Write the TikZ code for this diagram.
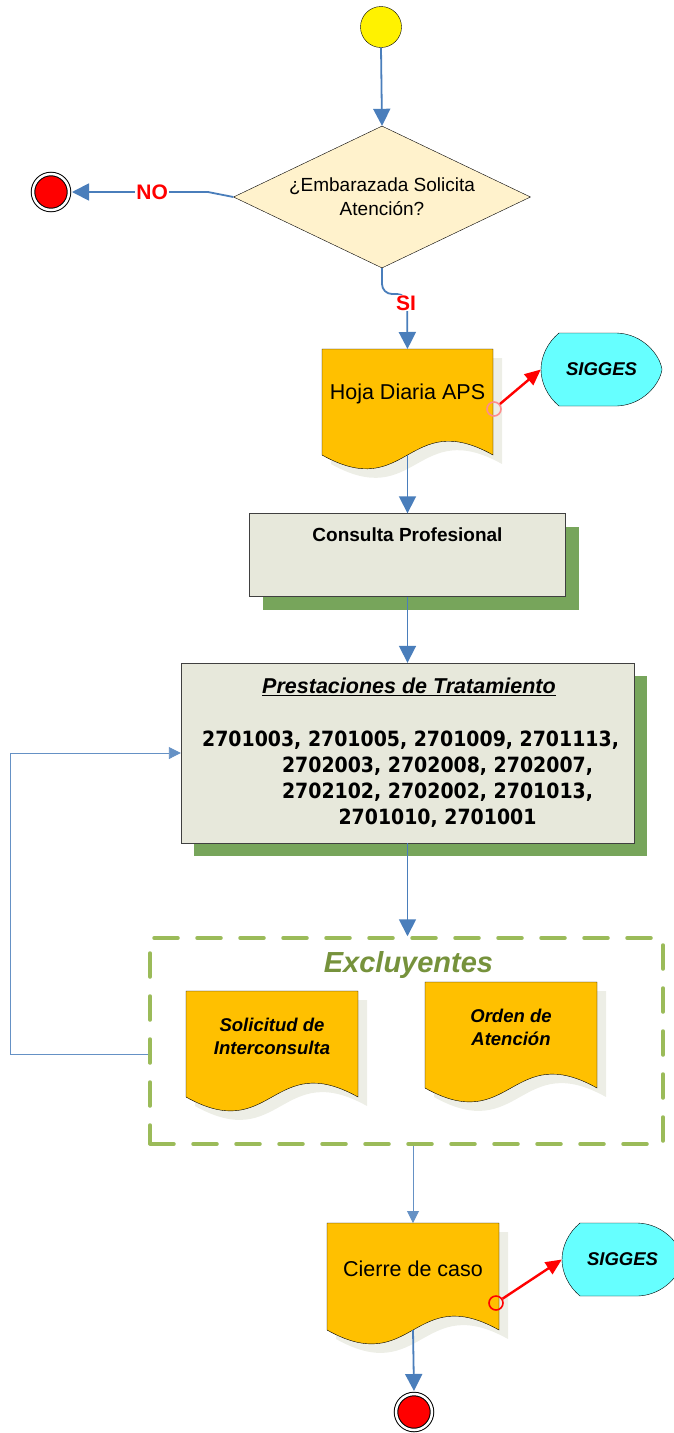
\documentclass[tikz,border=0pt]{standalone}
\usepackage{fontspec}
\setmainfont{Liberation Sans}
\newfontfamily\codefont{DejaVu Sans}[FakeStretch=0.9]
\usetikzlibrary{shapes.geometric,arrows.meta,shadows}

\definecolor{flowblue}{HTML}{4A7EBB}
\definecolor{docorange}{HTML}{FFC000}
\definecolor{docshade}{HTML}{EDEEE6}
\definecolor{boxfill}{HTML}{E7E8DB}
\definecolor{boxshade}{HTML}{77A55B}
\definecolor{decfill}{HTML}{FFF2CC}
\definecolor{sigcyan}{HTML}{66FFFF}
\definecolor{grpgreen}{HTML}{9BBB59}
\definecolor{grptext}{HTML}{76923C}

\begin{document}
\begin{tikzpicture}[x=1pt, y=-1pt]
	
	\tikzset{
		flow/.style={draw=flowblue, line width=1.8pt, -{Triangle[width=17pt,length=17pt]}},
		thinflow/.style={draw=flowblue!85, line width=0.9pt, -{Triangle[width=12pt,length=12pt]}},
		sigflow/.style={draw=red, line width=2.4pt, -{Triangle[width=14pt,length=16pt]}},
		startnode/.style={circle, draw=black, thin, fill=yellow, minimum size=41pt, inner sep=0pt},
		endnode/.style={circle, draw=black, line width=1pt, double=white, double distance=2.5pt, fill=red, minimum size=36pt, inner sep=0pt, outer sep=3pt},
		decision/.style={diamond, aspect=2.1, draw=black, thin, fill=decfill, minimum width=297pt, minimum height=142pt, inner sep=0pt, align=center, font=\fontsize{19}{24}\selectfont},
		answer/.style={fill=white, text=red, inner sep=1pt, font=\fontsize{21}{24}\selectfont\bfseries},
		procbox/.style={draw=black!75, thin, fill=boxfill, inner sep=0pt, drop shadow={shadow xshift=13pt, shadow yshift=-13pt, fill=boxshade, opacity=1}},
		docbox/.style={rectangle, inner sep=0pt, outer sep=0pt},
		docpath/.style={draw=black, thin, fill=docorange},
		doctext/.style={font=\fontsize{21.5}{25}\selectfont},
		docbold/.style={align=center, font=\fontsize{18.5}{23}\selectfont\bfseries\itshape},
		sigshape/.style={draw=black, thin, fill=sigcyan},
		sigtext/.style={inner sep=0pt, font=\fontsize{18.5}{22}\selectfont\bfseries\itshape},
		ring/.style={circle, draw=red, line width=1.6pt, minimum size=14pt, inner sep=0pt},
		groupbox/.style={draw=grpgreen, line width=3.5pt, line cap=round, dash pattern=on 24pt off 19pt, inner sep=0pt}
	}
	
	% ---------------------------
	% Helper macro: paper sheet with a wavy bottom
	% (#1 x, #2 y of top left, #3 width, #4 height, #5 node name, #6 text style, #7 text)
	% ---------------------------
	\newcommand{\drawdoc}[7]{%
		\begin{scope}[shift={(#1,#2)}]
			\fill[docshade] (9,9) -- (#3+9,9) -- (#3+9,#4+9)
				.. controls (0.5*#3+9,#4+9-0.28*#3) and (0.5*#3+9,#4+9+0.28*#3) .. (9,#4+9) -- cycle;
			\draw[docpath] (0,0) -- (#3,0) -- (#3,#4)
				.. controls (0.5*#3,#4-0.28*#3) and (0.5*#3,#4+0.28*#3) .. (0,#4) -- cycle;
		\end{scope}
		\node[docbox, minimum width=#3pt, minimum height=#4pt] (#5) at (#1+0.5*#3,#2+0.5*#4) {};
		\node[#6] (#5-txt) at ([yshift=8pt]#5.center) {#7};
	}
	
	% ---------------------------
	% Helper macro: SIGGES display shape
	% (#1 x, #2 y of top left, #3 node name)
	% ---------------------------
	\newcommand{\drawsig}[3]{%
		\begin{scope}[shift={(#1,#2)}]
			\draw[sigshape] (18,0) -- (76,0) .. controls (102,1) and (119,22) .. (121,36.5)
				.. controls (119,51) and (102,72) .. (76,73) -- (18,73)
				.. controls (6,63) and (0,49) .. (0,36.5) .. controls (0,24) and (6,10) .. (18,0) -- cycle;
		\end{scope}
		\node[sigtext, minimum width=121pt, minimum height=73pt] (#3) at (#1+60.5,#2+36.5) {SIGGES};
	}
	
	\useasboundingbox (0,0) rectangle (673,1433);
	
	% ---------------------------
	% Start and decision
	% ---------------------------
	\node[startnode] (start) at (381,27) {};
	\node[decision] (dia) at (382,197) {¿Embarazada Solicita\\Atención?};
	\node[endnode] (end1) at (51,192) {};
	
	% ---------------------------
	% Registration
	% ---------------------------
	\drawdoc{322}{349}{171}{106}{hoja}{doctext}{Hoja Diaria APS}
	\drawsig{541}{333}{sig1}
	\node[ring, draw=red!45] (hoja-ring) at (494,409) {};
	
	% ---------------------------
	% Consultation and treatment
	% ---------------------------
	\node[procbox, minimum width=316pt, minimum height=83pt] (cons) at (407.5,555) {};
	\node[font=\fontsize{19}{22}\selectfont\bfseries] (cons-txt) at ([yshift=-21pt]cons.north) {Consulta Profesional};
	
	\node[procbox, minimum width=453pt, minimum height=180pt] (prest) at (407.5,753) {};
	\node[font=\fontsize{21.5}{24}\selectfont\bfseries\itshape] (prest-title) at ([xshift=1.5pt, yshift=-24pt]prest.north) {\underline{Prestaciones de Tratamiento}};
	\node[align=center, font=\codefont\fontsize{21}{26}\selectfont\bfseries] (prest-codes) at ([xshift=3pt, yshift=-26pt]prest.center)
		{2701003, 2701005, 2701009, 2701113,\\
		 \hspace*{54pt}2702003, 2702008, 2702007,\\
		 \hspace*{54pt}2702102, 2702002, 2701013,\\
		 \hspace*{54pt}2701010, 2701001};
	
	% ---------------------------
	% Excluding documents
	% ---------------------------
	\node[groupbox, minimum width=513pt, minimum height=206pt] (excl) at (406.5,1041) {};
	\node[text=grptext, font=\fontsize{29}{32}\selectfont\bfseries\itshape] (excl-title) at ([xshift=2pt, yshift=-29pt]excl.north) {Excluyentes};
	\drawdoc{186}{991}{172}{106}{soli}{docbold}{Solicitud de\\Interconsulta}
	\drawdoc{425}{982}{172}{106}{orden}{docbold}{Orden de\\Atención}
	
	% ---------------------------
	% Closing
	% ---------------------------
	\drawdoc{327}{1223}{172}{107}{cierre}{doctext}{Cierre de caso}
	\drawsig{562}{1223}{sig2}
	\node[ring, fill=none] (cierre-ring) at (496,1303) {};
	\node[endnode] (end2) at (414,1412) {};
	
	% ---------------------------
	% Connectors
	% ---------------------------
	\coordinate (no-bend) at (208,192);
	\coordinate (si-bend) at (407,294);
	\coordinate (fb-corner) at (10,1054);
	
	\draw[flow] (start.south) -- (dia.north);
	\draw[flow] (dia.west) -- (no-bend) -- node[answer, pos=0.41] (no) {NO} (end1.east);
	\draw[flow, rounded corners=10pt] (dia.south) |- (si-bend) -- (hoja.north);
	\node[answer] (si) at (406,303) {SI};
	\draw[flow] (hoja.south) -- (cons.north);
	\draw[flow] (cons.south) -- (prest.north);
	\draw[flow] (prest.south) -- (prest.south |- excl.north);
	\draw[thinflow] ([yshift=-13pt]excl.west) -- (fb-corner) |- (prest.west);
	\draw[thinflow] (excl.south -| cierre.north) -- (cierre.north);
	\draw[flow] (cierre.south) -- (end2.north);
	\draw[sigflow] (hoja-ring) -- (sig1.west);
	\draw[sigflow] (cierre-ring) -- (sig2.west);
	
\end{tikzpicture}
\end{document}
